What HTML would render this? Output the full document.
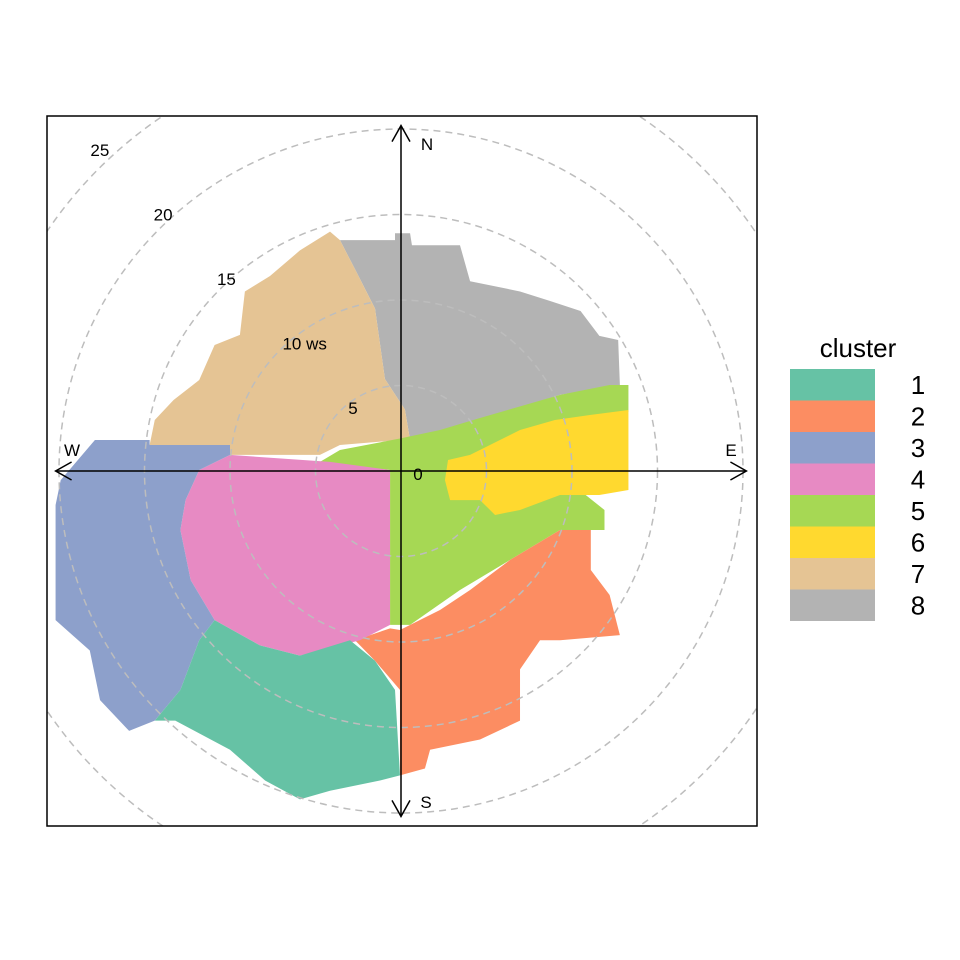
<!DOCTYPE html>
<html><head><meta charset="utf-8"><style>
body{margin:0;background:#fff}
svg{display:block;font-family:"Liberation Sans",sans-serif}
</style></head><body>
<svg id="chart" width="960" height="960" viewBox="0 0 960 960">
<defs><clipPath id="pc"><rect x="47" y="116" width="710" height="710"/></clipPath></defs>
<rect x="0" y="0" width="960" height="960" fill="#fff"/>
<g id="fills" clip-path="url(#pc)"></g>
<g id="rings" clip-path="url(#pc)"></g>
<g id="axes"></g>
<rect x="47" y="116" width="710" height="710" fill="none" stroke="#000" stroke-width="1.5"/>
<g id="legend"></g>
</svg>
<script>
const clusterNames = ["1","2","3","4","5","6","7","8"];
const clusterColors = ["#66C2A5","#FC8D62","#8DA0CB","#E78AC3","#A6D854","#FFD92F","#E5C494","#B3B3B3"];
const ringValues = [5,10,15,20,25];
const ringLabels = ["5","10 ws","15","20","25"];
// cluster boundaries in wind-speed components [u, v]
const cluster8 = [[-3.57,13.5],[-0.35,13.5],[-0.35,13.9],[0.53,13.9],[0.64,13.2],[3.45,13.2],[4.04,11.1],[6.96,10.5],[8.72,9.94],[10.5,9.36],[11.6,7.9],[12.7,7.66],[12.8,5.03],[9.3,4.45],[4.62,2.98],[1.7,1.81],[0.53,1.81],[0.23,3.6],[-0.94,5.38],[-1.52,9.5],[-2.69,11.8]];
const cluster7 = [[-3.57,13.5],[-4.15,14.0],[-5.91,12.9],[-7.66,11.4],[-9.13,10.5],[-9.42,7.96],[-10.9,7.37],[-11.8,5.32],[-13.3,4.15],[-14.4,2.98],[-14.7,1.52],[-10.0,1.52],[-10.0,0.94],[-4.74,0.94],[-3.57,1.52],[-0.06,1.81],[0.53,1.81],[0.23,3.6],[-0.94,5.38],[-1.52,9.5],[-2.69,11.8]];
const cluster5 = [[-4.8,0.5],[-3.57,1.23],[-0.06,1.9],[2.28,2.4],[4.62,3.1],[9.3,4.45],[12.2,5.03],[13.3,5.03],[13.3,3.45],[11.1,2.98],[10.5,1.81],[10.2,0.06],[10.8,-1.4],[11.9,-2.28],[11.9,-3.45],[9.3,-3.45],[6.38,-5.2],[3.45,-6.96],[0.53,-9.0],[-0.64,-9.0],[-0.64,0.06]];
const cluster6 = [[2.57,-0.53],[2.75,0.64],[4.04,0.94],[6.96,2.4],[9.0,2.98],[11.1,3.28],[13.3,3.57],[13.3,-1.11],[11.6,-1.4],[9.3,-1.4],[6.96,-2.28],[5.5,-2.57],[4.62,-1.7],[2.87,-1.7]];
const cluster2 = [[-0.06,-9.3],[2.28,-8.13],[4.04,-6.96],[6.38,-5.2],[9.3,-3.45],[11.1,-3.45],[11.1,-5.79],[12.2,-7.25],[12.8,-9.6],[9.3,-9.9],[8.13,-9.9],[6.96,-11.6],[6.96,-14.6],[4.62,-15.7],[1.7,-16.3],[1.4,-17.4],[-0.06,-17.8],[-0.06,-12.8],[-1.52,-11.1],[-2.69,-9.9],[-0.64,-9.2]];
const cluster4 = [[-0.64,0.06],[-4.15,0.53],[-10.0,0.94],[-11.8,0.06],[-12.6,-1.7],[-12.9,-3.45],[-12.3,-6.38],[-10.9,-8.72],[-8.25,-10.2],[-5.91,-10.8],[-2.4,-9.9],[-0.64,-9.0]];
const cluster3 = [[-20.2,-1.99],[-19.9,-0.53],[-17.9,1.81],[-14.7,1.81],[-14.7,1.52],[-10.0,1.52],[-10.0,0.94],[-11.8,0.06],[-12.6,-1.7],[-12.9,-3.45],[-12.3,-6.38],[-10.9,-8.72],[-11.8,-9.9],[-12.9,-12.8],[-14.4,-14.6],[-15.9,-15.2],[-17.6,-13.4],[-18.2,-10.5],[-20.2,-8.72],[-20.2,-5.2]];
const cluster1 = [[-10.9,-8.72],[-8.25,-10.2],[-5.91,-10.8],[-2.98,-9.9],[-1.52,-11.1],[-0.35,-12.8],[-0.06,-17.8],[-1.23,-18.1],[-4.15,-18.7],[-5.91,-19.2],[-7.95,-18.1],[-10.0,-16.3],[-13.2,-14.6],[-14.4,-14.6],[-12.9,-12.8],[-11.8,-9.9]];

const NS="http://www.w3.org/2000/svg";
const cx=401, cy=471, k=17.1;
function sx(u){return cx+u*k;}
function sy(v){return cy-v*k;}
function mk(tag,attrs,parent){const e=document.createElementNS(NS,tag);for(const a in attrs)e.setAttribute(a,attrs[a]);parent.appendChild(e);return e;}

const fills=document.getElementById('fills');
const order=[[cluster8,7],[cluster7,6],[cluster5,4],[cluster6,5],[cluster2,1],[cluster4,3],[cluster3,2],[cluster1,0]];
order.forEach(([poly,ci])=>{
  const p=mk('polygon',{points:poly.map(d=>sx(d[0])+','+sy(d[1])).join(' '),fill:clusterColors[ci]},fills);
  
  
});

const rings=document.getElementById('rings');
ringValues.forEach((r,i)=>{
  const c=mk('circle',{cx:cx,cy:cy,r:r*k,fill:'none',stroke:'#bdbdbd','stroke-width':1.5,'stroke-dasharray':'7,5'},rings);
  
  
  const u=-2.81-(r-5)*0.74, v=3.68+(r-5)*0.754;
  const t=mk('text',{x:sx(u)+(i==1?15:0),y:sy(v)+6,'font-size':17,'text-anchor':'middle',fill:'#000'},rings);
  t.textContent=ringLabels[i];
  
  
});

const axes=document.getElementById('axes');
const L=20.2;
[[-L,0,L,0],[0,-L,0,L]].forEach((d,i)=>{
  const l=mk('line',{x1:sx(d[0]),y1:sy(d[1]),x2:sx(d[2]),y2:sy(d[3]),stroke:'#000','stroke-width':1.5},axes);
  
  
});
const e0=sx(L),w0=sx(-L),n0=sy(L),s0=sy(-L);
const heads=[[e0,cy,-1,0],[w0,cy,1,0],[cx,n0,0,1],[cx,s0,0,-1]];
heads.forEach(h=>{
  const [x,y,dx,dy]=h;const a=16,b=9;
  const px=-dy,py=dx;
  mk('polyline',{points:`${x+dx*a+px*b},${y+dy*a+py*b} ${x},${y} ${x+dx*a-px*b},${y+dy*a-py*b}`,fill:'none',stroke:'#000','stroke-width':1.5},axes);
});
[["N",427,150],["E",731,456],["S",426,808],["W",72,456],["0",418,480]].forEach(d=>{
  const t=mk('text',{x:d[1],y:d[2],'font-size':17,'text-anchor':'middle',fill:'#000'},axes);
  t.textContent=d[0];
  
  
});

const lg=document.getElementById('legend');
const tt=mk('text',{x:858,y:357,'font-size':26,'text-anchor':'middle',fill:'#000'},lg);
tt.textContent='cluster';


clusterNames.forEach((n,i)=>{
  const y=369+i*31.5;
  const r=mk('rect',{x:790,y:y,width:85,height:31.5,fill:clusterColors[i]},lg);
  
  
  const t=mk('text',{x:918,y:y+25,'font-size':26,'text-anchor':'middle',fill:'#000'},lg);
  t.textContent=n;
  
  
});
</script>
</body></html>
